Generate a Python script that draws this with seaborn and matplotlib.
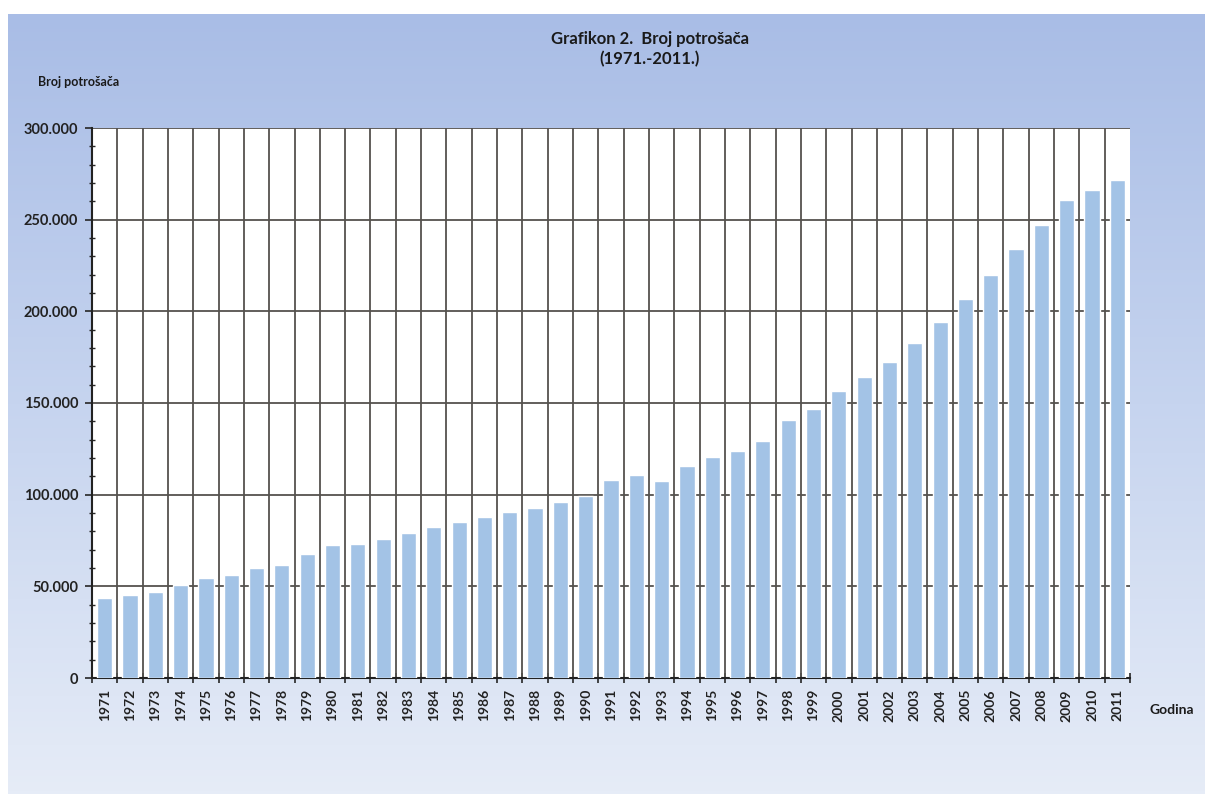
import numpy as np
import pandas as pd
import matplotlib
matplotlib.use("Agg")
import matplotlib.pyplot as plt
import seaborn as sns
from matplotlib.colors import LinearSegmentedColormap
from matplotlib.ticker import FuncFormatter, MultipleLocator, FixedLocator

# data
years = [str(y) for y in range(1971, 2012)]
consumers = [
    43600, 45400, 47100, 51000, 54500, 56200, 59800, 61800, 67600, 72700,
    73100, 75800, 79100, 82500, 85300, 88000, 90700, 92500, 95800, 99400,
    108200, 110800, 107300, 115900, 120300, 124000, 129500, 140500, 146700, 156600,
    164300, 172400, 182500, 194400, 206700, 219700, 234000, 247200, 261000, 266100,
    271400,
]
y_ticks = [0, 50000, 100000, 150000, 200000, 250000, 300000]

df = pd.DataFrame({"Godina": years, "Broj": consumers})

sns.set_style("white")
plt.rcParams["font.family"] = ["Lato", "DejaVu Sans"]

fig = plt.figure(figsize=(12.05, 7.94), dpi=100)

# gradient background panel
bg = fig.add_axes([8 / 1205, 0, 1 - 8 / 1205, 1 - 14 / 794], zorder=-2)
grad = np.linspace(0, 1, 256).reshape(-1, 1)
cmap_bg = LinearSegmentedColormap.from_list("bg", ["#a9bde6", "#c6d4ef", "#e6ecf7"])
bg.imshow(grad, aspect="auto", cmap=cmap_bg, extent=[0, 1, 0, 1], origin="upper")
bg.set_axis_off()

ax = fig.add_axes([92 / 1205, 1 - 678 / 794, (1130 - 92) / 1205, (678 - 128) / 794])
ax.set_facecolor("white")

sns.barplot(data=df, x="Godina", y="Broj", color="#a3c3e6", width=0.6,
            saturation=1, ax=ax, zorder=3)

ax.set_xlim(-0.5, len(years) - 0.5)
ax.set_ylim(0, 300000)

# grid: horizontal at major ticks, vertical between categories
for v in y_ticks[1:]:
    ax.axhline(v, color="#55524e", lw=1.3, zorder=1)
for i in range(len(years) - 1):
    ax.axvline(i + 0.5, color="#55524e", lw=1.3, zorder=1)

ax.yaxis.set_major_locator(FixedLocator(y_ticks))
ax.yaxis.set_minor_locator(MultipleLocator(10000))
ax.yaxis.set_major_formatter(FuncFormatter(lambda v, p: f"{int(v):,}".replace(",", ".")))
ax.xaxis.set_minor_locator(FixedLocator([i + 0.5 for i in range(-1, len(years))]))

ax.tick_params(axis="y", which="major", direction="out", length=5, width=1.2,
               labelsize=10.5, pad=5, left=True)
ax.tick_params(axis="y", which="minor", direction="inout", length=4, width=1, left=True)
ax.tick_params(axis="x", which="major", length=0, labelsize=10, rotation=90, pad=8)
ax.tick_params(axis="x", which="minor", direction="inout", length=7, width=1.2, bottom=True)
for lbl in ax.get_xticklabels() + ax.get_yticklabels():
    lbl.set_fontweight("bold")
    lbl.set_color("#222222")

for s in ["top", "right"]:
    ax.spines[s].set_visible(False)
ax.spines["left"].set_color("#222222")
ax.spines["bottom"].set_color("#222222")
ax.spines["left"].set_linewidth(1.5)
ax.spines["bottom"].set_linewidth(1.5)
ax.set_xlabel("")
ax.set_ylabel("")

fig.text(650 / 1205, 1 - 49 / 794, "Grafikon 2.  Broj potrošača\n(1971.-2011.)",
         ha="center", va="center", fontsize=12, fontweight="bold", color="#1a1a1a",
         linespacing=1.3)
fig.text(38 / 1205, 1 - 82 / 794, "Broj potrošača", ha="left", va="center",
         fontsize=9, fontweight="bold", color="#1a1a1a")
fig.text(1150 / 1205, 1 - 710 / 794, "Godina", ha="left", va="center",
         fontsize=10, fontweight="bold", color="#1a1a1a")

fig.savefig("out.png", dpi=100)
